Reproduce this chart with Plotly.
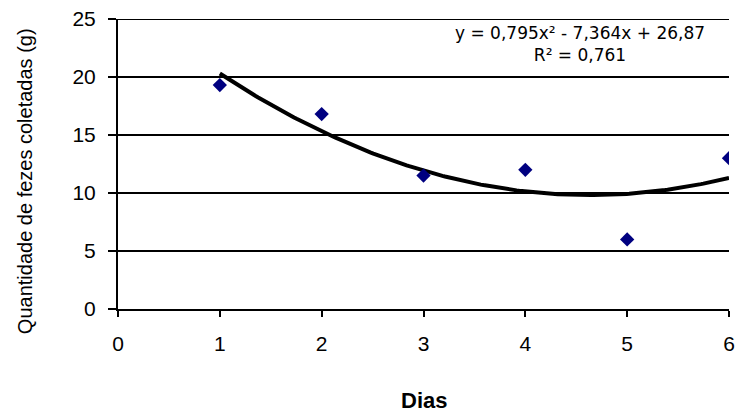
import numpy as np
import plotly.graph_objects as go

dias = [1, 2, 3, 4, 5, 6]
fezes = [19.3, 16.8, 11.5, 12.0, 6.0, 13.0]
trend_coef = [0.795, -7.364, 26.87]  # y = a x^2 + b x + c (from chart)
x_ticks = [0, 1, 2, 3, 4, 5, 6]
y_ticks = [0, 5, 10, 15, 20, 25]
eq_lines = ["y = 0,795x² - 7,364x + 26,87", "R² = 0,761"]
x_title = "Dias"
y_title = "Quantidade de fezes coletadas (g)"

xt = np.linspace(1, 6, 200)
yt = np.polyval(trend_coef, xt)

fig = go.Figure()
fig.add_trace(go.Scatter(x=xt, y=yt, mode="lines",
                         line=dict(color="black", width=4), showlegend=False))
fig.add_trace(go.Scatter(x=dias, y=fezes, mode="markers",
                         marker=dict(symbol="diamond", size=11, color="#000080"),
                         showlegend=False))

# top gridline at the range edge (plotly omits it)
fig.add_shape(type="line", xref="paper", x0=0, x1=1, yref="y", y0=y_ticks[-1], y1=y_ticks[-1],
              line=dict(color="black", width=2), layer="below")

fig.add_annotation(x=0.756, y=(309 - 44) / 290, xref="paper", yref="paper",
                   text="<br>".join(eq_lines), showarrow=False,
                   xanchor="center", yanchor="middle", align="center",
                   font=dict(family="DejaVu Sans", size=17, color="black"))

fig.add_annotation(x=0.5, y=-0.317, xref="paper", yref="paper",
                   text="<b>" + x_title + "</b>", showarrow=False,
                   xanchor="center", yanchor="middle",
                   font=dict(family="Arial", size=22, color="black"))
fig.add_annotation(x=-0.151, y=0.44, xref="paper", yref="paper",
                   text=y_title, textangle=-90, showarrow=False,
                   xanchor="center", yanchor="middle",
                   font=dict(family="Arial", size=20, color="black"))

fig.update_layout(
    width=738, height=417,
    margin=dict(l=118, r=9, t=19, b=108, autoexpand=False),
    paper_bgcolor="white", plot_bgcolor="white",
    font=dict(family="Arial", color="black"),
    xaxis=dict(range=[0, 6], tickvals=x_ticks, showgrid=False,
               showline=True, linecolor="black", linewidth=2,
               ticks="outside", ticklen=6, tickwidth=2, tickcolor="black",
               tickfont=dict(size=21), zeroline=False, automargin=False,
               ticklabelstandoff=9, ticklabeloverflow="allow"),
    yaxis=dict(range=[0, 25], tickvals=y_ticks, showgrid=True,
               gridcolor="black", gridwidth=2,
               showline=True, linecolor="black", linewidth=2,
               ticks="outside", ticklen=8, tickwidth=2, tickcolor="black",
               tickfont=dict(size=21), zeroline=False, automargin=False,
               ticklabelstandoff=8, ticklabeloverflow="allow"),
)

fig.write_html("out.html", config={"displayModeBar": False},
               post_script="document.body.style.margin='0';document.body.style.overflow='hidden';")
